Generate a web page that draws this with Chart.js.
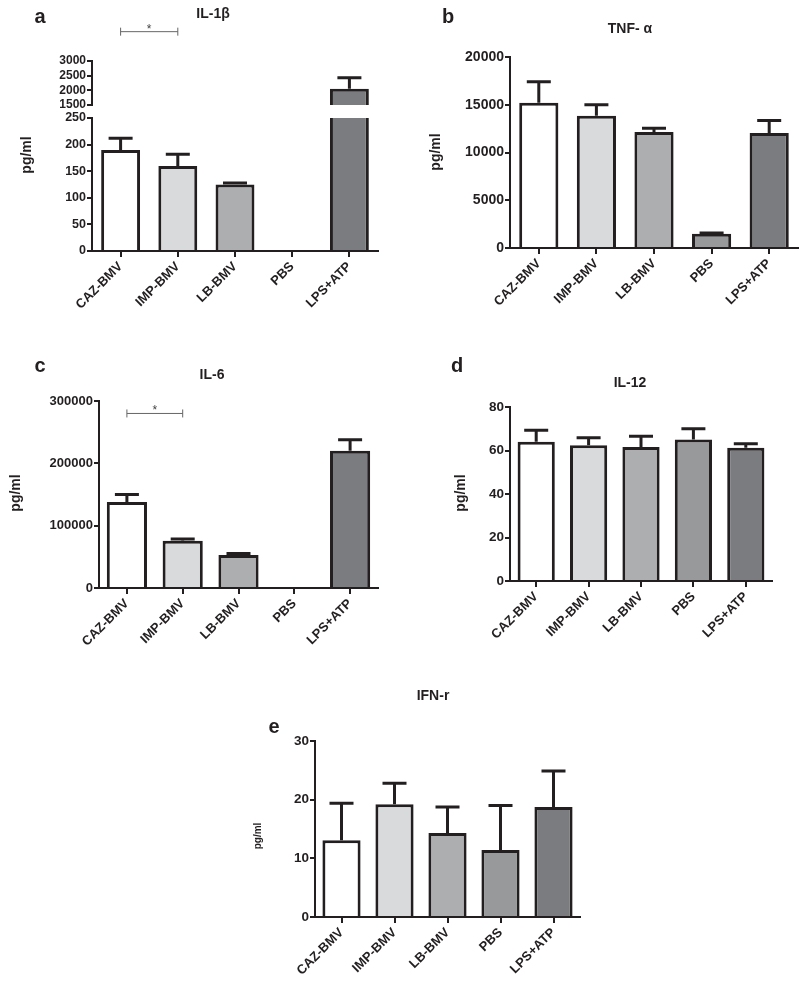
<!DOCTYPE html>
<html>
<head>
<meta charset="utf-8">
<script src="https://cdn.jsdelivr.net/npm/chart.js@4.4.1/dist/chart.umd.min.js"></script>
<style>
  html, body { margin: 0; padding: 0; background: #fff; }
  #page { position: relative; width: 800px; height: 982px; }
  canvas { position: absolute; }
</style>
</head>
<body>
<div id="page">
  <canvas id="chartA" width="400" height="330" style="left:0px;top:0px"></canvas>
  <canvas id="chartB" width="400" height="330" style="left:400px;top:0px"></canvas>
  <canvas id="chartC" width="400" height="340" style="left:0px;top:330px"></canvas>
  <canvas id="chartD" width="400" height="340" style="left:400px;top:330px"></canvas>
  <canvas id="chartE" width="400" height="322" style="left:200px;top:660px"></canvas>
</div>
<script>
// groups on the x axis
const categories = ['CAZ-BMV', 'IMP-BMV', 'LB-BMV', 'PBS', 'LPS+ATP'];
const barColors = ['#ffffff', '#d9dadc', '#adaeb0', '#98999b', '#7b7c7f'];

// mean and upper error (pg/ml)
const il1bMeans = [190, 160, 125, 0, 2050];
const il1bErrors = [22, 22, 3, 0, 380];
const tnfMeans = [15200, 13850, 12150, 1500, 12050];
const tnfErrors = [2200, 1150, 400, 60, 1300];
const il6Means = [138000, 76000, 53000, 0, 220000];
const il6Errors = [12000, 2500, 2500, 0, 18000];
const il12Means = [64, 62.4, 61.6, 65.1, 61.3];
const il12Errors = [5.3, 3.5, 4.9, 4.9, 1.8];
const ifnMeans = [13.1, 19.2, 14.3, 11.4, 18.75];
const ifnErrors = [6.3, 3.6, 4.45, 7.6, 6.15];

// broken axis of IL-1b: [min, max, step]
const il1bLowTicks = [0, 250, 50];
const il1bHighTicks = [1500, 3000, 500];

const ink = '#231f20';
const fontFamily = "'Liberation Sans', Arial, Helvetica, sans-serif";
Chart.defaults.font.family = fontFamily;
Chart.defaults.color = ink;

const errorBars = {
  id: 'errorBars',
  afterDatasetsDraw(chart) {
    const ctx = chart.ctx;
    chart.data.datasets.forEach((ds, i) => {
      if (!ds.errors) return;
      const meta = chart.getDatasetMeta(i);
      const yScale = chart.scales[meta.yAxisID];
      meta.data.forEach((bar, j) => {
        const v = ds.data[j];
        const e = ds.errors[j];
        if (v == null || !e) return;
        const top = yScale.getPixelForValue(v + e);
        ctx.save();
        ctx.strokeStyle = ink;
        ctx.lineWidth = 3;
        ctx.beginPath();
        ctx.moveTo(bar.x, bar.y);
        ctx.lineTo(bar.x, top);
        ctx.moveTo(bar.x - 12, top);
        ctx.lineTo(bar.x + 12, top);
        ctx.stroke();
        ctx.restore();
      });
    });
  }
};

function textPlugin(items) {
  return {
    id: 'panelText',
    afterDraw(chart) {
      const ctx = chart.ctx;
      items.forEach(t => {
        ctx.save();
        ctx.fillStyle = ink;
        ctx.font = 'bold ' + t.size + 'px ' + fontFamily;
        ctx.textAlign = 'center';
        if (t.rotate) {
          ctx.translate(t.x, t.y);
          ctx.rotate(-Math.PI / 2);
          ctx.textBaseline = 'middle';
          ctx.fillText(t.text, 0, 0);
        } else {
          ctx.textBaseline = 'alphabetic';
          ctx.fillText(t.text, t.x, t.y);
        }
        ctx.restore();
      });
    }
  };
}

function bracketPlugin(b) {
  return {
    id: 'sigBracket',
    afterDraw(chart) {
      const ctx = chart.ctx;
      const x0 = chart.scales.x.getPixelForValue(b.from);
      const x1 = chart.scales.x.getPixelForValue(b.to);
      const y = chart.scales[b.scaleId].getPixelForValue(b.value);
      ctx.save();
      ctx.strokeStyle = '#666';
      ctx.lineWidth = 1;
      ctx.beginPath();
      ctx.moveTo(x0, y); ctx.lineTo(x1, y);
      ctx.moveTo(x0, y - 4); ctx.lineTo(x0, y + 4);
      ctx.moveTo(x1, y - 4); ctx.lineTo(x1, y + 4);
      ctx.stroke();
      ctx.fillStyle = '#444';
      ctx.font = '12px ' + fontFamily;
      ctx.textAlign = 'center';
      ctx.textBaseline = 'alphabetic';
      ctx.fillText('*', (x0 + x1) / 2, y + 1);
      ctx.restore();
    }
  };
}

function yAxis(lim, size, extra) {
  return Object.assign({
    position: 'left',
    min: lim[0],
    max: lim[1],
    grid: { drawOnChartArea: false, drawTicks: true, tickLength: 5, color: ink, lineWidth: 2 },
    border: { display: true, color: ink, width: 2 },
    ticks: {
      stepSize: lim[2],
      autoSkip: false,
      callback: v => String(v),
      font: { size: size, weight: 'bold' },
      color: ink,
      padding: 1
    }
  }, extra || {});
}

function makePanel(p) {
  const canvas = document.getElementById(p.id);
  const W = canvas.width, H = canvas.height;
  const scales = {
    x: {
      type: 'category',
      offset: true,
      grid: { offset: false, drawOnChartArea: false, drawTicks: true, tickLength: 6, color: ink, lineWidth: 2 },
      border: { display: true, color: ink, width: 2 },
      ticks: { minRotation: 45, maxRotation: 45, autoSkip: false, font: { size: 13, weight: 'bold' }, color: ink, padding: 2 },
      afterFit: s => { s.height = H - p.area.bottom; }
    }
  };
  Object.keys(p.yScales).forEach(k => {
    const sc = p.yScales[k];
    sc.afterFit = s => { s.width = p.area.left; };
    scales[k] = sc;
  });
  const plugins = [errorBars, textPlugin(p.texts)];
  if (p.bracket) plugins.push(bracketPlugin(p.bracket));
  return new Chart(canvas.getContext('2d'), {
    type: 'bar',
    data: { labels: categories, datasets: p.datasets },
    options: {
      responsive: false,
      animation: false,
      devicePixelRatio: 1,
      layout: { padding: { left: 0, top: p.area.top, right: W - p.area.right, bottom: 0 } },
      plugins: { legend: { display: false }, title: { display: false }, tooltip: { enabled: false } },
      scales: scales
    },
    plugins: plugins
  });
}

function barSet(values, errors, extra) {
  return Object.assign({
    data: values,
    errors: errors,
    backgroundColor: barColors,
    borderColor: ink,
    borderWidth: 3,
    borderSkipped: 'start',
    categoryPercentage: 1,
    barPercentage: 0.68,
    grouped: false
  }, extra || {});
}

// a: IL-1b with a broken y axis (two stacked scales and a blank gap)
const il1bCut = il1bLowTicks[1];
const isCut = i => il1bMeans[i] > il1bCut;
makePanel({
  id: 'chartA',
  area: { left: 92, right: 378, top: 61, bottom: 251 },
  datasets: [
    barSet(il1bMeans.map(v => Math.min(v, il1bCut)),
      il1bErrors.map((e, i) => isCut(i) ? 0 : e),
      {
        yAxisID: 'y',
        borderWidth: c => isCut(c.dataIndex) ? { left: 3, right: 3, top: 0, bottom: 0 } : 3
      }),
    barSet(il1bMeans.map(v => v > il1bCut ? v : null), il1bErrors, { yAxisID: 'y2' })
  ],
  yScales: {
    y: yAxis(il1bLowTicks, 12.5, { stack: 'il1b', stackWeight: 133 }),
    yGap: { position: 'left', stack: 'il1b', stackWeight: 13, display: false },
    y2: yAxis(il1bHighTicks, 12, { stack: 'il1b', stackWeight: 44 })
  },
  texts: [
    { text: 'a', x: 40, y: 23, size: 20 },
    { text: 'IL-1β', x: 213, y: 18, size: 14 },
    { text: 'pg/ml', x: 27, y: 155, size: 14, rotate: true }
  ],
  bracket: { from: 0, to: 1, value: 4000, scaleId: 'y2' }
});

// b: TNF-a
makePanel({
  id: 'chartB',
  area: { left: 110, right: 398, top: 57, bottom: 248 },
  datasets: [barSet(tnfMeans, tnfErrors)],
  yScales: { y: yAxis([0, 20000, 5000], 14) },
  texts: [
    { text: 'b', x: 48, y: 23, size: 20 },
    { text: 'TNF- α', x: 230, y: 33, size: 14 },
    { text: 'pg/ml', x: 36, y: 152, size: 14, rotate: true }
  ]
});

// c: IL-6
makePanel({
  id: 'chartC',
  area: { left: 99, right: 378, top: 71, bottom: 258 },
  datasets: [barSet(il6Means, il6Errors, { barPercentage: 0.72 })],
  yScales: { y: yAxis([0, 300000, 100000], 13) },
  texts: [
    { text: 'c', x: 40, y: 42, size: 20 },
    { text: 'IL-6', x: 212, y: 49, size: 14 },
    { text: 'pg/ml', x: 16, y: 163, size: 14, rotate: true }
  ],
  bracket: { from: 0, to: 1, value: 280000, scaleId: 'y' }
});

// d: IL-12
makePanel({
  id: 'chartD',
  area: { left: 110, right: 372, top: 77, bottom: 251 },
  datasets: [barSet(il12Means, il12Errors, { barPercentage: 0.71 })],
  yScales: { y: yAxis([0, 80, 20], 13.5) },
  texts: [
    { text: 'd', x: 57, y: 42, size: 20 },
    { text: 'IL-12', x: 230, y: 57, size: 14 },
    { text: 'pg/ml', x: 61, y: 163, size: 14, rotate: true }
  ]
});

// e: IFN-r
makePanel({
  id: 'chartE',
  area: { left: 115, right: 380, top: 81, bottom: 257 },
  datasets: [barSet(ifnMeans, ifnErrors, { barPercentage: 0.72 })],
  yScales: { y: yAxis([0, 30, 10], 13.5) },
  texts: [
    { text: 'e', x: 74, y: 73, size: 20 },
    { text: 'IFN-r', x: 233, y: 40, size: 14 },
    { text: 'pg/ml', x: 58, y: 176, size: 10, rotate: true }
  ]
});
</script>
</body>
</html>
